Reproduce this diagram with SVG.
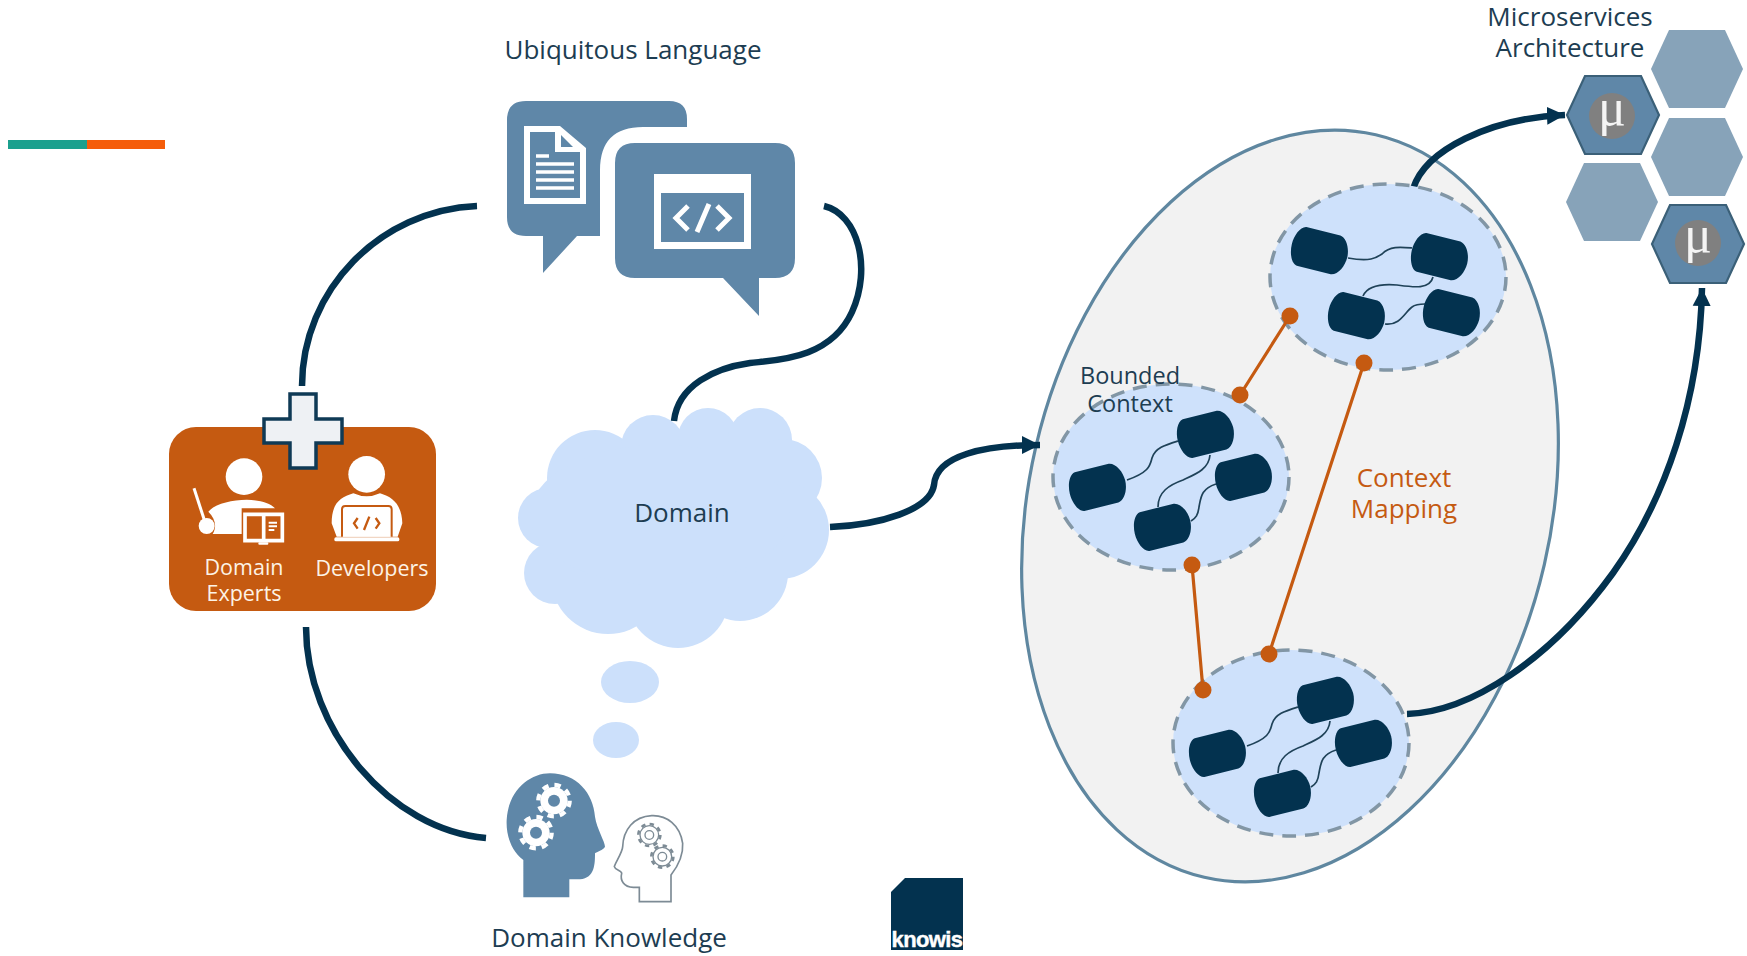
<svg xmlns="http://www.w3.org/2000/svg" xmlns:xlink="http://www.w3.org/1999/xlink" width="1747" height="956" viewBox="0 0 1747 956">
<style>
text{font-family:"Open Sans","Noto Sans","Liberation Sans",sans-serif;font-size:26px;fill:#1d3d52;text-anchor:middle}
.wl{font-size:21.5px;fill:#fdf3e6}
.ic{fill:#5f87a8}
.conn{fill:none;stroke:#03324f;stroke-width:6.5}
.arrow{fill:none;stroke:#03324f;stroke-width:6.5}
.cm{fill:none;stroke:#c55a11;stroke-width:3.2}
.dot{fill:#c55a11}
.ctx{fill:#cee1fb;stroke:#8296a5;stroke-width:3.5;stroke-dasharray:14 9}
.wire{fill:none;stroke:#1f4258;stroke-width:1.7}
.hexl{fill:#87a3b9}
.hexd{fill:#5f87a8;stroke:#3b6078;stroke-width:2.2}
.w{fill:#fff}
.ws{fill:none;stroke:#fff}
.ol{fill:none;stroke:#7d8b95;stroke-width:5}
</style>
<defs>
<marker id="ah" markerUnits="userSpaceOnUse" markerWidth="20" markerHeight="20" refX="18" refY="9.500" orient="auto"><path d="M0,0.500L18,9.500L0,18.500Z" fill="#03324f"/></marker>
<path id="cyl" d="M-19,-20 H16 C23,-19 28,-9 28,0 C28,9 23,19 16,20 H-19 C-25,19 -29,9 -29,0 C-29,-9 -25,-19 -19,-20Z" fill="#03324f"/>
<g id="cluster">
<path class="wire" d="M-44,3 C-21,-5 -21,-12 -19,-19 C-16,-29 -6,-32 7,-36"/>
<path class="wire" d="M39,-22 C38,-8 25,-3 12,3 C-2,8 -13,15 -13,30"/>
<path class="wire" d="M45,7 C30,12 30,20 28,30 C27,38 25,41 20,44"/>
<use xlink:href="#cyl" href="#cyl" transform="translate(-73,10) rotate(-14)"/>
<use xlink:href="#cyl" href="#cyl" transform="translate(35,-43) rotate(-14)"/>
<use xlink:href="#cyl" href="#cyl" transform="translate(73,0) rotate(-14)"/>
<use xlink:href="#cyl" href="#cyl" transform="translate(-8,50) rotate(-14)"/>
</g>
<g id="gear"><circle r="47" fill="none" stroke="#fff" stroke-width="13" stroke-dasharray="19 17.900"/><circle r="41" fill="#fff"/><circle r="18" fill="#5f87a8"/></g>
<g id="ogear"><circle r="28" fill="none" stroke="#7d8b95" stroke-width="4"/><circle r="33" fill="none" stroke="#7d8b95" stroke-width="8" stroke-dasharray="13 12.900"/><circle r="13" fill="none" stroke="#7d8b95" stroke-width="4"/></g>
<polygon id="hex" points="-28,-39 28,-39 46,0 28,39 -28,39 -46,0"/>
</defs>
<rect width="1747" height="956" fill="#fff"/>
<g id="accent-bar"><rect x="8" y="140" width="79" height="9" fill="#1ba08e"/><rect x="87" y="140" width="78" height="9" fill="#f55d0a"/></g>

<g id="domain-model"><ellipse cx="1290" cy="506" rx="261" ry="381" transform="rotate(13 1290 506)" fill="#f2f2f2" stroke="#5f87a0" stroke-width="3.2"/></g>

<g id="connectors">
<path class="conn" d="M302,386 C302,290 380,210 477,206"/>
<path class="conn" d="M824,206 C858,214 872,268 852,312 C830,360 775,360 750,363 C715,368 678,385 674,421"/>
<path class="conn" d="M306,627 C306,730 390,830 486,838"/>
<path class="arrow" marker-end="url(#ah)" d="M830,527 C880,525 930,510 934,485 C936,455 985,445 1040,445"/>
<path class="arrow" marker-end="url(#ah)" d="M1413,189 C1425,150 1490,118 1565,115"/>
<path class="arrow" marker-end="url(#ah)" d="M1407,714 C1470,712 1550,660 1613,573 C1665,500 1700,400 1702,288"/>
</g>

<g id="context-top"><ellipse class="ctx" cx="1388" cy="277" rx="118" ry="93"/>
<path class="wire" d="M1348,258 C1370,262 1376,258 1382,254 C1390,246 1400,247 1412,248"/>
<path class="wire" d="M1363,296 C1368,285 1385,284 1397,285 C1412,287 1430,290 1433,277"/>
<path class="wire" d="M1385,324 C1400,326 1405,312 1412,307 C1416,304 1420,304 1425,304"/>
<use xlink:href="#cyl" href="#cyl" transform="translate(1320,251) rotate(14)"/>
<use xlink:href="#cyl" href="#cyl" transform="translate(1440,257) rotate(14)"/>
<use xlink:href="#cyl" href="#cyl" transform="translate(1357,316) rotate(14)"/>
<use xlink:href="#cyl" href="#cyl" transform="translate(1452,313) rotate(14)"/>
</g>
<g id="context-middle"><ellipse class="ctx" cx="1171" cy="477" rx="118" ry="93"/><use xlink:href="#cluster" href="#cluster" transform="translate(1171,477)"/></g>
<g id="context-bottom"><ellipse class="ctx" cx="1291" cy="743" rx="118" ry="93"/><use xlink:href="#cluster" href="#cluster" transform="translate(1291,743)"/></g>

<g id="context-mapping">
<path class="cm" d="M1240,395L1290,316M1364,363L1269,654M1192,565L1203,690"/>
<circle class="dot" cx="1290" cy="316" r="8.5"/><circle class="dot" cx="1240" cy="395" r="8.5"/><circle class="dot" cx="1364" cy="363" r="8.5"/><circle class="dot" cx="1269" cy="654" r="8.5"/><circle class="dot" cx="1192" cy="565" r="8.5"/><circle class="dot" cx="1203" cy="690" r="8.5"/>
<text x="1404" y="487" style="fill:#c55a11">Context</text><text x="1404" y="518" style="fill:#c55a11">Mapping</text>
</g>
<g id="bounded-context-label"><text x="1130" y="384" style="font-size:23.500px">Bounded</text><text x="1130" y="412" style="font-size:23.500px">Context</text></g>

<g id="hexagons">
<use xlink:href="#hex" href="#hex" class="hexl" transform="translate(1697,69)"/>
<use xlink:href="#hex" href="#hex" class="hexl" transform="translate(1697,157)"/>
<use xlink:href="#hex" href="#hex" class="hexl" transform="translate(1612,202)"/>
<use xlink:href="#hex" href="#hex" class="hexd" transform="translate(1613,115)"/>
<use xlink:href="#hex" href="#hex" class="hexd" transform="translate(1698,244)"/>
<circle cx="1612" cy="116" r="23" fill="#808080"/><circle cx="1698" cy="243" r="23" fill="#808080"/>
<text x="1612" y="125" style="font-family:'Liberation Serif',serif;font-size:52px;fill:#f4f4f4">μ</text>
<text x="1698" y="252" style="font-family:'Liberation Serif',serif;font-size:52px;fill:#f4f4f4">μ</text>
</g>
<g id="microservices-label"><text x="1570" y="26">Microservices</text><text x="1570" y="57">Architecture</text></g>

<g id="ubiquitous-language">
<text x="633" y="59">Ubiquitous Language</text>
<path class="ic" d="M526,101 H669 Q687,101 687,119 V127 H643 Q600,127 600,170 V236 H577 L543,273 V236 H526 Q507,236 507,217 V120 Q507,101 526,101Z"/>
<path class="w" fill-rule="evenodd" d="M524,126 H560 L586,148 V204 H524Z M530,132 V198 H580 V152 H555 V132Z"/>
<path class="ic" d="M561,135 L573,147 H561Z"/>
<path d="M536,156 H549 M536,164 H574 M536,172 H574 M536,180 H574 M536,188 H574" stroke="#fff" stroke-width="3.500"/>
<path class="ic" d="M635,143 H775 Q795,143 795,163 V258 Q795,278 775,278 H759 V316 L723,278 H635 Q615,278 615,258 V163 Q615,143 635,143Z"/>
<path class="w" fill-rule="evenodd" d="M654,174 H751 V249 H654Z M661,193 V242 H744 V193Z"/>
<circle class="w" cx="720" cy="184" r="2"/><circle class="w" cx="730" cy="184" r="2"/><circle class="w" cx="738" cy="184" r="2"/>
<path class="ws" stroke-width="5" d="M688,206 L676,218 L688,230 M717,206 L729,218 L717,230 M709,204 L697,232"/>
</g>

<g id="domain-cloud" fill="#cce0fb">
<circle cx="595" cy="478" r="48"/><circle cx="653" cy="447" r="32"/><circle cx="708" cy="438" r="30"/><circle cx="760" cy="440" r="32"/><circle cx="783" cy="478" r="39"/><circle cx="780" cy="530" r="49"/><circle cx="740" cy="573" r="48"/><circle cx="678" cy="597" r="51"/><circle cx="608" cy="577" r="57"/><circle cx="555" cy="573" r="31"/><circle cx="548" cy="518" r="30"/><ellipse cx="660" cy="515" rx="130" ry="70"/><rect x="640" y="450" width="130" height="60"/>
<ellipse cx="630" cy="682" rx="29" ry="21"/><ellipse cx="616" cy="740" rx="23" ry="18"/>
<text x="682" y="522">Domain</text>
</g>

<g id="domain-knowledge">
<g transform="translate(480,750) scale(.33333)">
<path class="ic" d="M130,442 V330 C90,300 78,250 80,210 C85,120 150,70 210,70 C290,70 340,130 345,200 C350,235 375,275 375,290 C370,300 350,305 345,310 C345,340 345,385 300,388 H268 V442Z"/>
<use xlink:href="#gear" href="#gear" transform="translate(222,152)"/>
<use xlink:href="#gear" href="#gear" transform="translate(168,248)"/>
<path class="ol" d="M478,455 H573 V375 C600,340 610,310 608,280 C600,225 560,195 515,197 C460,200 430,240 428,290 C428,305 405,340 403,350 C405,360 425,362 425,370 C420,390 430,412 460,412 H478Z"/>
<use xlink:href="#ogear" href="#ogear" transform="translate(508,255)"/>
<use xlink:href="#ogear" href="#ogear" transform="translate(547,320)"/>
</g>
<text x="609" y="947">Domain Knowledge</text>
</g>

<g id="team">
<rect x="169" y="427" width="267" height="184" rx="27" fill="#c55a11"/>
<path d="M290,394 H316 V419 H342 V443 H316 V468 H290 V443 H264 V419 H290Z" fill="#eef1f4" stroke="#0f3a55" stroke-width="3.500"/>
<g transform="translate(140,380) scale(.33333)">
<circle class="w" cx="312" cy="290" r="55"/>
<path class="w" d="M205,395 C240,355 370,345 405,385 H305 V462 H218 C232,440 225,415 205,395Z"/>
<path class="ws" stroke-width="9" d="M162,325 L193,420"/><circle class="w" cx="200" cy="438" r="24"/>
<path class="ws" stroke-width="11" d="M315,403 H427 V482 H315Z M371,403 V482"/>
<path class="ws" stroke-width="6" d="M386,428 H411 M386,439 H411 M386,450 H403"/>
<rect class="w" x="355" y="487" width="30" height="7" rx="3"/>
<circle class="w" cx="680" cy="283" r="55"/>
<path class="w" d="M575,430 C575,370 600,352 640,340 Q680,358 720,340 C760,352 785,375 787,430 L773,470 H590Z"/>
<path d="M606,470 V388 Q606,378 616,378 H745 Q755,378 755,388 V470" class="w" style="stroke:#c55a11;stroke-width:6"/>
<rect class="w" x="583" y="472" width="195" height="12" rx="5"/>
<path stroke-width="7" fill="none" stroke="#c55a11" d="M653,414 L642,430 L653,446 M707,414 L718,430 L707,446 M688,410 L672,450"/>
</g>
<text class="wl" x="244" y="575">Domain</text><text class="wl" x="244" y="601">Experts</text><text class="wl" x="372" y="576">Developers</text>
</g>

<g id="logo"><path d="M905,878 H963 V950 H891 V892Z" fill="#03324f"/><text x="927" y="947" style="font-family:'Liberation Sans',sans-serif;font-weight:700;font-size:22px;fill:#fff;stroke:#fff;stroke-width:.4;letter-spacing:-.6px">knowis</text></g>
</svg>
